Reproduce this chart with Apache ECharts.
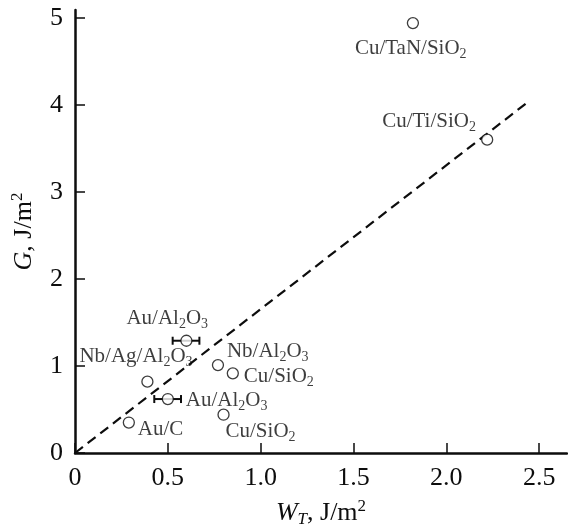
<!DOCTYPE html>
<html>
<head>
<meta charset="utf-8">
<script src="https://cdn.jsdelivr.net/npm/echarts@6/dist/echarts.min.js"></script>
<style>
  html, body { margin: 0; padding: 0; background: #fff; }
  #chart { width: 568px; height: 527px; }
</style>
</head>
<body>
<div id="chart"></div>
<script>
// Film/substrate systems: thermodynamic work of adhesion W_T vs. measured G
const systems = [
  'Cu/TaN/SiO{s|2}', 'Cu/Ti/SiO{s|2}', 'Au/Al{s|2}O{s|3}', 'Nb/Ag/Al{s|2}O{s|3}',
  'Nb/Al{s|2}O{s|3}', 'Cu/SiO{s|2}', 'Au/Al{s|2}O{s|3}', 'Cu/SiO{s|2}', 'Au/C'
];
const workT  = [1.82, 2.22, 0.60, 0.39, 0.77, 0.85, 0.50, 0.80, 0.29];
const energyG = [4.94, 3.60, 1.29, 0.82, 1.01, 0.915, 0.62, 0.44, 0.35];

// Horizontal error bars (W_T range) for the two Au/Al2O3 entries
const errLow  = [0.526, 0.427];
const errHigh = [0.670, 0.571];
const errG    = [1.29, 0.62];

// Dashed trend line
const trendX = [0, 2.45];
const trendG = [0, 4.05];

// Axis ticks
const xTicks = [0, 0.5, 1.0, 1.5, 2.0, 2.5];
const xTickLabels = ['0', '0.5', '1.0', '1.5', '2.0', '2.5'];
const yTicks = [0, 1, 2, 3, 4, 5];
const yTickLabels = ['0', '1', '2', '3', '4', '5'];

// Label placement relative to each marker (px): [dx to left edge, dy to text middle]
const labelPlacement = [
  [-58, 25], [-105, -18], [-60, -22], [-68, -25],
  [9, -14], [11, 3], [18, 1], [2, 17], [9, 7]
];

const FONT = 'Liberation Serif';
const INK = '#0d0d0d';

const labelRich = {
  s: { fontSize: 14, fontFamily: FONT, color: INK, verticalAlign: 'bottom', lineHeight: 14 }
};

const pointData = workT.map((x, i) => ({
  value: [x, energyG[i]],
  name: systems[i],
  label: { offset: labelPlacement[i] }
}));

const chart = echarts.init(document.getElementById('chart'), null, { renderer: 'canvas' });

const axisCommon = {
  type: 'value',
  axisLine: { show: true, lineStyle: { color: INK, width: 2.5 } },
  axisTick: { show: true, inside: true, length: 10, lineStyle: { color: INK, width: 1.5 } },
  splitLine: { show: false },
  axisLabel: { color: INK, fontFamily: FONT, fontSize: 26 },
  nameLocation: 'middle',
  nameTextStyle: {
    color: INK, fontFamily: FONT, fontSize: 26, lineHeight: 30,
    rich: {
      i: { fontStyle: 'italic', fontFamily: FONT, fontSize: 26, color: INK, lineHeight: 30 },
      isub: { fontStyle: 'italic', fontFamily: FONT, fontSize: 17, color: INK, verticalAlign: 'bottom', lineHeight: 16 },
      sup: { fontFamily: FONT, fontSize: 17, color: INK, verticalAlign: 'top', lineHeight: 14 },
      n: { fontFamily: FONT, fontSize: 26, color: INK, lineHeight: 30 }
    }
  }
};

chart.setOption({
  animation: false,
  backgroundColor: '#fff',
  grid: { left: 75, right: 1, top: 10, bottom: 74, containLabel: false, outerBoundsMode: 'none' },
  xAxis: Object.assign({}, axisCommon, {
    min: 0, max: 2.65,
    name: '{i|W}{isub|T}{n|, J/m}{sup|2}',
    nameGap: 45,
    axisTick: Object.assign({}, axisCommon.axisTick, { customValues: xTicks }),
    axisLabel: Object.assign({}, axisCommon.axisLabel, {
      margin: 12,
      customValues: xTicks,
      formatter: v => xTickLabels[xTicks.indexOf(v)]
    })
  }),
  yAxis: Object.assign({}, axisCommon, {
    min: 0, max: 5.09,
    name: '{i|G}{n|, J/m}{sup|2}',
    nameGap: 28,
    axisTick: Object.assign({}, axisCommon.axisTick, { customValues: yTicks }),
    axisLabel: Object.assign({}, axisCommon.axisLabel, {
      margin: 12,
      customValues: yTicks,
      formatter: v => yTickLabels[yTicks.indexOf(v)]
    })
  }),
  series: [
    {
      type: 'line',
      data: trendX.map((x, i) => [x, trendG[i]]),
      symbol: 'none',
      lineStyle: { color: INK, width: 2.2, type: [10, 6] },
      z: 1,
      silent: true
    },
    {
      type: 'custom',
      data: errLow.map((lo, i) => [lo, errHigh[i], errG[i]]),
      encode: { x: [0, 1], y: 2 },
      z: 2,
      renderItem: (params, api) => {
        const a = api.coord([api.value(0), api.value(2)]);
        const b = api.coord([api.value(1), api.value(2)]);
        const cap = 4;
        const st = { stroke: INK, lineWidth: 2 };
        return {
          type: 'group',
          children: [
            { type: 'line', shape: { x1: a[0], y1: a[1], x2: b[0], y2: b[1] }, style: st },
            { type: 'line', shape: { x1: a[0], y1: a[1] - cap, x2: a[0], y2: a[1] + cap }, style: st },
            { type: 'line', shape: { x1: b[0], y1: b[1] - cap, x2: b[0], y2: b[1] + cap }, style: st }
          ]
        };
      }
    },
    {
      type: 'scatter',
      data: pointData,
      symbol: 'circle',
      symbolSize: 11,
      itemStyle: { color: '#fff', borderColor: INK, borderWidth: 1.3 },
      z: 3,
      label: {
        show: true,
        position: 'inside',
        align: 'left',
        verticalAlign: 'middle',
        color: INK,
        fontFamily: FONT,
        fontSize: 21,
        lineHeight: 26,
        formatter: p => p.name,
        rich: labelRich
      },
      emphasis: { disabled: true }
    }
  ]
});
</script>
</body>
</html>
